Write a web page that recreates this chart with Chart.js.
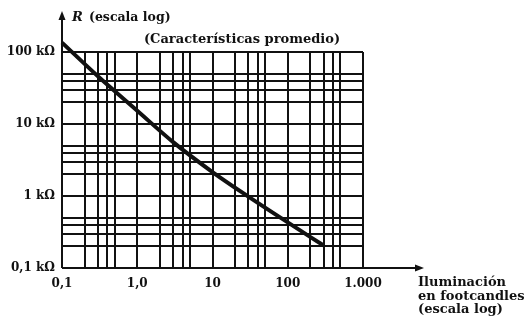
<!DOCTYPE html>
<html>
<head>
<meta charset="utf-8">
<script src="https://cdn.jsdelivr.net/npm/chart.js@4"></script>
<style>
    body { margin: 0; background: #fff; }
    canvas { display: block; }
</style>
</head>
<body>
<canvas id="fotoChart" width="526" height="320"></canvas>
<script>
// Datos (R en kΩ, iluminacion en footcandles)
const iluminacion = [0.1, 0.3, 1, 3, 10, 30, 100, 300];
const resistencia = [135, 46, 15.3, 5.6, 2.15, 0.98, 0.43, 0.205];

// Lineas de la cuadricula y etiquetas
const xGrid = [0.1, 0.2, 0.3, 0.4, 0.5, 1, 2, 3, 4, 5, 10, 20, 30, 40, 50, 100, 200, 300, 400, 500, 1000];
const yGrid = [0.1, 0.2, 0.3, 0.4, 0.5, 1, 2, 3, 4, 5, 10, 20, 30, 40, 50, 100];
const xMarcas = [0.1, 1, 10, 100, 1000];
const xEtiquetas = ['0,1', '1,0', '10', '100', '1.000'];
const yMarcas = [0.1, 1, 10, 100];
const yEtiquetas = ['0,1 kΩ', '1 kΩ', '10 kΩ', '100 kΩ'];

const fuente = { family: 'DejaVu Serif', size: 12, weight: 'bold' };
const tinta = '#111';

function etiqueta(valor, marcas, textos) {
    const i = marcas.findIndex(m => Math.abs(Math.log10(m) - Math.log10(valor)) < 0.001);
    return i >= 0 ? textos[i] : '';
}

// Ejes con flecha y textos del dibujo
const anotaciones = {
    id: 'anotaciones',
    afterDraw(chart) {
        const { ctx, chartArea } = chart;
        const { left, bottom } = chartArea;
        ctx.save();
        ctx.strokeStyle = tinta;
        ctx.fillStyle = tinta;
        ctx.lineWidth = 2;
        ctx.beginPath();
        ctx.moveTo(left, bottom);
        ctx.lineTo(left, 18);
        ctx.moveTo(left, bottom);
        ctx.lineTo(416, bottom);
        ctx.stroke();
        ctx.beginPath();
        ctx.moveTo(left, 11);
        ctx.lineTo(left - 3.5, 20);
        ctx.lineTo(left + 3.5, 20);
        ctx.closePath();
        ctx.fill();
        ctx.beginPath();
        ctx.moveTo(424, bottom);
        ctx.lineTo(415, bottom - 3.5);
        ctx.lineTo(415, bottom + 3.5);
        ctx.closePath();
        ctx.fill();

        ctx.textBaseline = 'alphabetic';
        ctx.textAlign = 'left';
        ctx.font = 'italic bold 13px "DejaVu Serif"';
        ctx.fillText('R', 72, 21);
        ctx.font = 'bold 12.5px "DejaVu Serif"';
        ctx.fillText('(escala log)', 89, 21);
        ctx.font = 'bold 13px "DejaVu Serif"';
        ctx.textAlign = 'center';
        ctx.fillText('(Características promedio)', 242, 43);
        ctx.textAlign = 'left';
        ctx.fillText('Iluminación', 418, 286);
        ctx.fillText('en footcandles', 418, 300);
        ctx.fillText('(escala log)', 418, 313);
        ctx.restore();
    }
};

const ctx = document.getElementById('fotoChart').getContext('2d');
new Chart(ctx, {
    type: 'line',
    data: {
        datasets: [{
            data: iluminacion.map((x, i) => ({ x: x, y: resistencia[i] })),
            borderColor: tinta,
            borderWidth: 4,
            pointRadius: 0,
            cubicInterpolationMode: 'monotone',
            clip: false
        }]
    },
    options: {
        responsive: false,
        animation: false,
        layout: { padding: { top: 52, right: 163, left: 0, bottom: 0 } },
        plugins: {
            legend: { display: false },
            tooltip: { enabled: false }
        },
        scales: {
            x: {
                type: 'logarithmic',
                min: 0.1,
                max: 1000,
                afterBuildTicks: s => { s.ticks = xGrid.map(v => ({ value: v })); },
                afterFit: s => { s.height = 52; },
                grid: { color: tinta, lineWidth: 2, drawTicks: false },
                border: { display: false },
                ticks: {
                    autoSkip: false,
                    maxRotation: 0,
                    padding: 9,
                    color: tinta,
                    font: fuente,
                    callback: v => etiqueta(v, xMarcas, xEtiquetas)
                }
            },
            y: {
                type: 'logarithmic',
                min: 0.1,
                max: 100,
                afterBuildTicks: s => { s.ticks = yGrid.map(v => ({ value: v })); },
                afterFit: s => { s.width = 62; },
                grid: { color: tinta, lineWidth: 2, drawTicks: false },
                border: { display: false },
                ticks: {
                    autoSkip: false,
                    padding: 7,
                    color: tinta,
                    font: fuente,
                    callback: v => etiqueta(v, yMarcas, yEtiquetas)
                }
            }
        }
    },
    plugins: [anotaciones]
});
</script>
</body>
</html>
